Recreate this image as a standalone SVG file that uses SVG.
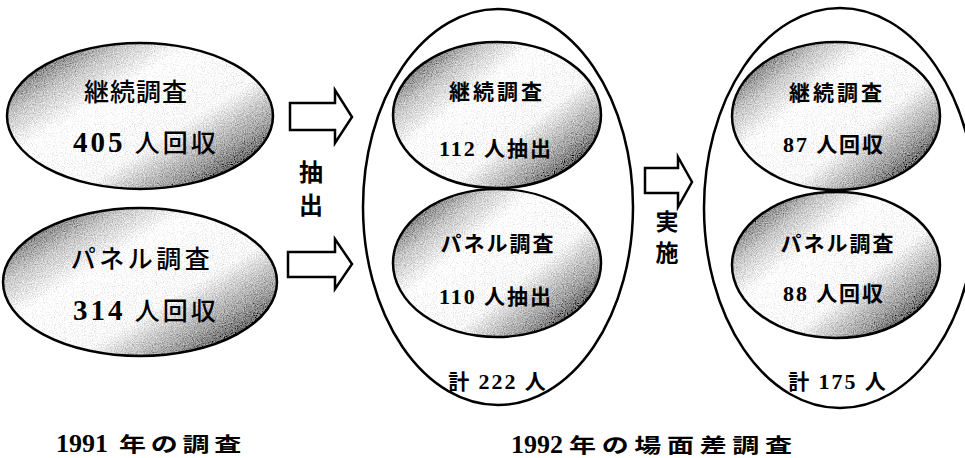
<svg xmlns="http://www.w3.org/2000/svg" width="965" height="458" viewBox="0 0 965 458">
<defs>
<linearGradient id="shade" x1="0.05" y1="0.12" x2="0.95" y2="0.92">
<stop offset="0" stop-color="#555"/>
<stop offset="0.18" stop-color="#c4c4c4"/>
<stop offset="0.34" stop-color="#fdfdfd"/>
<stop offset="0.62" stop-color="#f6f6f6"/>
<stop offset="0.82" stop-color="#9a9a9a"/>
<stop offset="1" stop-color="#1c1c1c"/>
</linearGradient>
<filter id="grain" x="0" y="0" width="1" height="1">
<feTurbulence type="fractalNoise" baseFrequency="0.9" numOctaves="2" seed="4" result="t"/>
<feColorMatrix in="t" type="matrix" values="1 0 0 0 0  1 0 0 0 0  1 0 0 0 0  0 0 0 0 1" result="g"/>
<feComposite in="SourceGraphic" in2="g" operator="arithmetic" k1="0" k2="1" k3="0.8" k4="-0.38" result="m"/>
<feComposite in="m" in2="SourceGraphic" operator="in"/>
</filter>
<style>
.sh{fill:url(#shade);stroke:none;filter:url(#grain)}
.ol{fill:none;stroke:#000;stroke-width:2.5}
.big{fill:none;stroke:#000;stroke-width:2.5}
.arr{fill:#fff;stroke:#000;stroke-width:2.5;stroke-linejoin:miter}
text{font-family:"Liberation Serif","Noto Sans CJK JP",serif;fill:#000;text-anchor:middle}
.t1{font-size:25px;font-weight:500}
.d1{font-size:29px;font-weight:bold}
.t2{font-size:21px;font-weight:bold}
.d2{font-size:22px;font-weight:bold}
.v{font-family:"Noto Sans CJK JP",sans-serif;font-size:24px;font-weight:bold}
.dig{font-size:26px;font-weight:bold;text-anchor:start}
.kj{font-size:20px;font-weight:bold;text-anchor:start}
</style>
</defs>
<g id="connectors">
<polygon class="arr" points="290,103 335,103 335,90 352,117 335,143 335,130 290,130"/>
<polygon class="arr" points="288,252 335,252 335,239 352,264 335,289 335,277 288,277"/>
<polygon class="arr" points="645,168 678,168 678,157 692,182 678,207 678,193 645,193"/>
</g>
<g id="label-extract"><text class="v" x="311" y="181">抽</text><text class="v" x="311" y="214">出</text></g>
<g id="label-implement"><text class="v" x="667" y="230" style="font-size:23px">実</text><text class="v" x="667" y="261" style="font-size:23px">施</text></g>
<g id="n1991-cont">
<ellipse class="sh" cx="140" cy="116" rx="133" ry="73"/>
<ellipse class="ol" cx="140" cy="116" rx="133" ry="73"/>
<text class="t1" x="136" y="101" letter-spacing="1">継続調査</text>
<text class="t1" x="146" y="152" letter-spacing="3"><tspan class="d1">405</tspan> 人回収</text>
</g>
<g id="n1991-panel">
<ellipse class="sh" cx="140" cy="282" rx="137" ry="74"/>
<ellipse class="ol" cx="140" cy="282" rx="137" ry="74"/>
<text class="t1" x="142" y="268" letter-spacing="3.5">パネル調査</text>
<text class="t1" x="146" y="320" letter-spacing="3"><tspan class="d1">314</tspan> 人回収</text>
</g>
<g id="g1992-extract">
<ellipse class="big" cx="498" cy="207" rx="135" ry="198"/>
<text class="t2" x="498" y="389" letter-spacing="2">計 <tspan class="d2">222</tspan> 人</text>
</g>
<g id="n1992-cont-extract">
<ellipse class="sh" cx="497" cy="115" rx="104" ry="73"/>
<ellipse class="ol" cx="497" cy="115" rx="104" ry="73"/>
<text class="t2" x="497" y="99" letter-spacing="3">継続調査</text>
<text class="t2" x="496" y="156" letter-spacing="2"><tspan class="d2">112</tspan> 人抽出</text>
</g>
<g id="n1992-panel-extract">
<ellipse class="sh" cx="497" cy="263" rx="104" ry="74"/>
<ellipse class="ol" cx="497" cy="263" rx="104" ry="74"/>
<text class="t2" x="498" y="251" letter-spacing="2">パネル調査</text>
<text class="t2" x="496" y="304" letter-spacing="2"><tspan class="d2">110</tspan> 人抽出</text>
</g>
<g id="g1992-result">
<ellipse class="big" cx="840" cy="208" rx="136" ry="200"/>
<text class="t2" x="838" y="389" letter-spacing="2">計 <tspan class="d2">175</tspan> 人</text>
</g>
<g id="n1992-cont-result">
<ellipse class="sh" cx="836" cy="116" rx="104" ry="74"/>
<ellipse class="ol" cx="836" cy="116" rx="104" ry="74"/>
<text class="t2" x="837" y="100" letter-spacing="3">継続調査</text>
<text class="t2" x="834" y="152" letter-spacing="2"><tspan class="d2">87</tspan> 人回収</text>
</g>
<g id="n1992-panel-result">
<ellipse class="sh" cx="836" cy="265" rx="104" ry="73"/>
<ellipse class="ol" cx="836" cy="265" rx="104" ry="73"/>
<text class="t2" x="838" y="251" letter-spacing="2">パネル調査</text>
<text class="t2" x="834" y="301" letter-spacing="2"><tspan class="d2">88</tspan> 人回収</text>
</g>
<g id="caption-1991">
<text class="dig" x="56" y="452">1991</text>
<text class="kj" transform="matrix(1.35,0,0,1,119,452)" letter-spacing="3.5">年の調査</text>
</g>
<g id="caption-1992">
<text class="dig" x="511" y="453">1992</text>
<text class="kj" transform="matrix(1.35,0,0,1,569,453)" letter-spacing="4.2">年の場面差調査</text>
</g>
</svg>
